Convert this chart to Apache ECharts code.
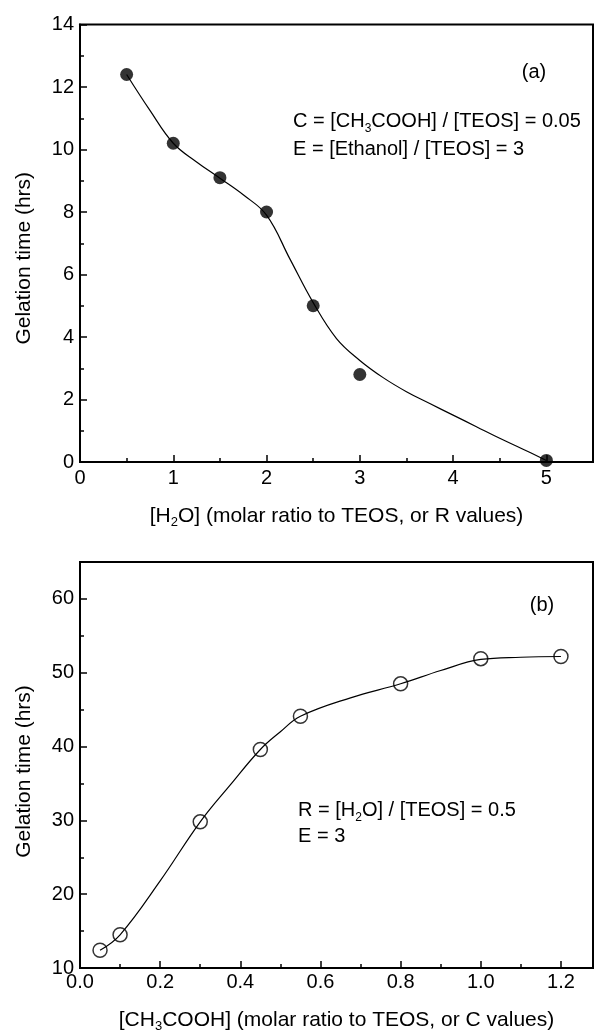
<!DOCTYPE html>
<html>
<head>
<meta charset="utf-8">
<title>Gelation time</title>
<script src="https://cdn.jsdelivr.net/npm/echarts@6.0.0/dist/echarts.min.js"></script>
<style>
html, body { margin: 0; padding: 0; background: #fff; }
#main { width: 594px; height: 1034px; }
</style>
</head>
<body>
<div id="main"></div>
<script>
// (a) gelation time vs water ratio (filled dots)
var waterRatio = [0.5, 1, 1.5, 2, 2.5, 3, 5];
var gelTimeA = [12.4, 10.2, 9.1, 8.0, 5.0, 2.8, 0.05];
// fitted curve of (a)
var fitAx = [0.5, 0.75, 1.0, 1.25, 1.5, 1.75, 2.0, 2.25, 2.5, 2.75, 3.0, 3.25, 3.5, 3.75, 4.0, 4.25, 4.5, 4.75, 5.0];
var fitAy = [12.4, 11.25, 10.2, 9.6, 9.08, 8.55, 7.9, 6.5, 5.1, 3.95, 3.25, 2.7, 2.25, 1.87, 1.5, 1.13, 0.76, 0.41, 0.05];

// (b) gelation time vs acetic acid ratio (open dots)
var acidRatio = [0.05, 0.1, 0.3, 0.45, 0.55, 0.8, 1.0, 1.2];
var gelTimeB = [12.4, 14.5, 29.8, 39.6, 44.1, 48.5, 51.9, 52.2];
// fitted curve of (b)
var fitBx = [0.05, 0.1, 0.2, 0.3, 0.375, 0.45, 0.5, 0.55, 0.675, 0.8, 0.9, 1.0, 1.1, 1.2];
var fitBy = [12.4, 14.5, 21.8, 29.8, 34.8, 39.6, 42.0, 44.1, 46.6, 48.5, 50.3, 51.8, 52.1, 52.2];

var FONT = 'Liberation Sans';

function pairs(xs, ys) {
  return xs.map(function (x, i) { return [x, ys[i]]; });
}

// main axis: line, long ticks, labels
function major(grid, pos, min, max, step, margin, fmt) {
  return {
    type: 'value', gridIndex: grid, position: pos,
    min: min, max: max, interval: step,
    axisLine: { show: true, onZero: false, lineStyle: { color: '#000', width: 2 } },
    axisTick: { show: true, inside: true, length: 7, lineStyle: { color: '#000', width: 1.5 } },
    axisLabel: { show: true, inside: false, margin: margin, color: '#000', fontSize: 20, fontFamily: FONT,
      showMaxLabel: false, formatter: fmt },
    splitLine: { show: false }
  };
}
// second axis only for the short ticks
function minor(grid, pos, min, max, step) {
  return {
    type: 'value', gridIndex: grid, position: pos,
    min: min, max: max, interval: step,
    axisLine: { show: false },
    axisTick: { show: true, inside: true, length: 4, lineStyle: { color: '#000', width: 1.5 } },
    axisLabel: { show: false },
    splitLine: { show: false }
  };
}

function nameStyle(pad) {
  return {
    color: '#000', fontSize: 21, fontFamily: FONT, padding: pad || 0,
    rich: { sub: { fontSize: 13, fontFamily: FONT, color: '#000', padding: [12, 0, 0, 0] } }
  };
}

var xA = major(0, 'bottom', 0, 5.5, 1, 6);
xA.name = '[H{sub|2}O] (molar ratio to TEOS, or R values)';
xA.nameLocation = 'middle'; xA.nameGap = 42; xA.nameTextStyle = nameStyle();
var yA = major(0, 'left', 0, 14, 2, 6);
yA.axisLabel.showMaxLabel = true;
yA.name = 'Gelation time (hrs)';
yA.nameLocation = 'middle'; yA.nameGap = 45; yA.nameTextStyle = nameStyle([0, 30, 0, 0]);

var xB = major(1, 'bottom', 0, 1.28, 0.2, 4, function (v) { return v.toFixed(1); });
xB.name = '[CH{sub|3}COOH] (molar ratio to TEOS, or C values)';
xB.nameLocation = 'middle'; xB.nameGap = 40; xB.nameTextStyle = nameStyle();
var yB = major(1, 'left', 10, 65, 10, 6);
yB.name = 'Gelation time (hrs)';
yB.nameLocation = 'middle'; yB.nameGap = 45; yB.nameTextStyle = nameStyle([0, 13, 0, 0]);

function note(x, y, text, align) {
  return {
    type: 'text', x: x, y: y, silent: true,
    style: {
      text: text, fill: '#000', fontSize: 20, fontFamily: FONT,
      align: align || 'left', verticalAlign: 'middle',
      rich: { s: { fontSize: 12, fontFamily: FONT, fill: '#000', padding: [16, 0, 0, 0] } }
    }
  };
}

var chart = echarts.init(document.getElementById('main'));
chart.setOption({
  animation: false,
  backgroundColor: '#fff',
  grid: [
    { left: 80, top: 24.5, width: 513, height: 437.5, show: true, borderColor: '#000', borderWidth: 2, containLabel: false },
    { left: 80, top: 562, width: 513, height: 411.5, show: true, borderColor: '#000', borderWidth: 2, containLabel: false }
  ],
  xAxis: [xA, minor(0, 'bottom', 0, 5.5, 0.5), xB, minor(1, 'bottom', 0, 1.28, 0.1)],
  yAxis: [yA, minor(0, 'left', 0, 14, 1), yB, minor(1, 'left', 10, 65, 5)],
  series: [
    {
      type: 'line', xAxisIndex: 0, yAxisIndex: 0, data: pairs(fitAx, fitAy),
      smooth: 0.4, symbol: 'none', lineStyle: { color: '#000', width: 1.2 }, silent: true
    },
    {
      type: 'scatter', xAxisIndex: 0, yAxisIndex: 0, data: pairs(waterRatio, gelTimeA),
      symbol: 'circle', symbolSize: 13, itemStyle: { color: '#000' }, clip: false
    },
    {
      type: 'line', xAxisIndex: 2, yAxisIndex: 2, data: pairs(fitBx, fitBy),
      smooth: 0.4, symbol: 'none', lineStyle: { color: '#000', width: 1.2 }, silent: true
    },
    {
      type: 'scatter', xAxisIndex: 2, yAxisIndex: 2, data: pairs(acidRatio, gelTimeB),
      symbol: 'circle', symbolSize: 14, itemStyle: { color: '#fff', borderColor: '#000', borderWidth: 1.5 }
    }
  ],
  graphic: [
    note(534, 72, '(a)', 'center'),
    note(293, 121, 'C = [CH{s|3}COOH] / [TEOS] = 0.05'),
    note(293, 149, 'E = [Ethanol] / [TEOS] = 3'),
    note(542, 605, '(b)', 'center'),
    note(298, 810, 'R = [H{s|2}O] / [TEOS] = 0.5'),
    note(298, 836, 'E = 3')
  ]
});
</script>
</body>
</html>
